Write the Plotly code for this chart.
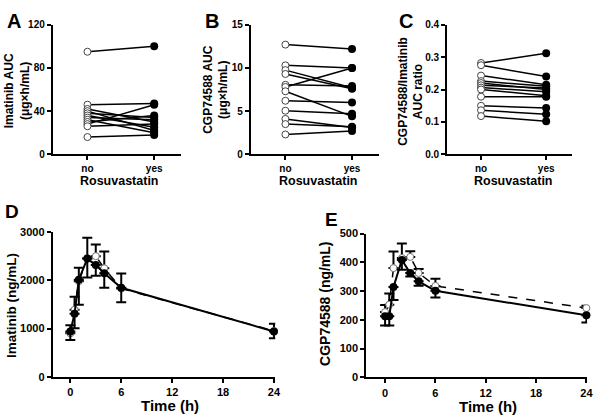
import plotly.graph_objects as go

# ---------- data ----------
groups = ["no", "yes"]

imatinib_auc_no = [95, 46, 42, 40, 38, 36, 34, 32, 30, 28, 26, 16]
imatinib_auc_yes = [100, 47, 30, 22, 34, 25, 32, 20, 36, 46, 28, 18]

cgp_auc_no = [12.7, 10.3, 9.75, 9.3, 8.05, 7.8, 7.3, 6.2, 5.05, 4.1, 3.5, 2.3]
cgp_auc_yes = [12.2, 10.0, 7.7, 7.6, 7.9, 10.0, 4.4, 6.0, 4.7, 3.1, 3.2, 2.7]

ratio_no = [0.282, 0.275, 0.243, 0.226, 0.22, 0.213, 0.206, 0.2, 0.178, 0.15, 0.136, 0.118]
ratio_yes = [0.312, 0.24, 0.215, 0.21, 0.2, 0.205, 0.193, 0.181, 0.178, 0.143, 0.124, 0.102]

time_h = [0, 0.5, 1, 2, 3, 4, 6, 24]

ima_no = [900, 1390, 1980, 2450, 2500, 2248, 1830, 950]
ima_no_sd = [170, 270, 280, 430, 240, 350, 310, 150]
ima_yes = [940, 1308, 2013, 2450, 2315, 2147, 1845, 940]
ima_yes_sd = [180, 300, 520, 390, 220, 300, 300, 140]

cgp_no = [227, 253, 380, 415, 419, 363, 318, 241]
cgp_no_sd = [25, 39, 58, 51, 20, 14, 25, 8]
cgp_yes = [213, 213, 314, 408, 363, 334, 301, 216]
cgp_yes_sd = [33, 33, 45, 34, 12, 15, 23, 25]

FONT = "Arial, Liberation Sans, sans-serif"
W, H = 600, 420

fig = go.Figure()


def px_x(p):
    return p / W


def px_y(p):
    return 1 - p / H


def paired(no_vals, yes_vals, ax):
    xs, ys = [], []
    for a, b in zip(no_vals, yes_vals):
        xs += [0, 1, None]
        ys += [a, b, None]
    fig.add_trace(go.Scatter(x=xs, y=ys, mode="lines", line=dict(color="black", width=1.5),
                             xaxis="x" + ax, yaxis="y" + ax, hoverinfo="skip", showlegend=False))
    fig.add_trace(go.Scatter(x=[0] * len(no_vals), y=no_vals, mode="markers",
                             marker=dict(symbol="circle", size=7, color="white",
                                         line=dict(color="#444", width=1)),
                             xaxis="x" + ax, yaxis="y" + ax, showlegend=False, cliponaxis=False))
    fig.add_trace(go.Scatter(x=[1] * len(yes_vals), y=yes_vals, mode="markers",
                             marker=dict(symbol="circle", size=8, color="black"),
                             xaxis="x" + ax, yaxis="y" + ax, showlegend=False, cliponaxis=False))


paired(imatinib_auc_no, imatinib_auc_yes, "")
paired(cgp_auc_no, cgp_auc_yes, "2")
paired(ratio_no, ratio_yes, "3")


def pk(no_vals, no_sd, yes_vals, yes_sd, ax):
    n = len(time_h)
    fig.add_trace(go.Scatter(x=time_h, y=no_vals, mode="lines+markers",
                             line=dict(color="black", width=1.5, dash="dash"),
                             marker=dict(symbol="circle", size=7, color="white",
                                         line=dict(color="#777", width=1)),
                             error_y=dict(type="data", symmetric=False, array=no_sd,
                                          arrayminus=[0] * n, color="black", thickness=2, width=5),
                             xaxis="x" + ax, yaxis="y" + ax, showlegend=False, cliponaxis=False))
    fig.add_trace(go.Scatter(x=time_h, y=yes_vals, mode="lines+markers",
                             line=dict(color="black", width=2),
                             marker=dict(symbol="circle", size=8, color="black"),
                             error_y=dict(type="data", symmetric=False, array=[0] * n,
                                          arrayminus=yes_sd, color="black", thickness=2, width=5),
                             xaxis="x" + ax, yaxis="y" + ax, showlegend=False, cliponaxis=False))


pk(ima_no, ima_no_sd, ima_yes, ima_yes_sd, "4")
pk(cgp_no, cgp_no_sd, cgp_yes, cgp_yes_sd, "5")

tickfont = dict(family=FONT, size=10, color="black", weight="bold")
tickfont_b = dict(family=FONT, size=11, color="black", weight="bold")
common = dict(showline=True, linecolor="black", linewidth=2, ticks="outside", ticklen=4,
              tickwidth=2, tickcolor="black", showgrid=False, zeroline=False, mirror=False)

top_y = [px_y(152.7), px_y(19.3)]
cat_x = dict(tickvals=[0, 1], ticktext=groups, range=[-0.52, 1.4], tickfont=tickfont, **common)

fig.update_layout(
    width=W, height=H, autosize=False,
    margin=dict(l=0, r=0, t=0, b=0),
    paper_bgcolor="white", plot_bgcolor="white",
    xaxis=dict(domain=[px_x(53.3), px_x(182.7)], anchor="y", **cat_x),
    yaxis=dict(domain=top_y, anchor="x", range=[0, 120], tickvals=[0, 40, 80, 120],
               tickfont=tickfont, **common),
    xaxis2=dict(domain=[px_x(253.3), px_x(382.5)], anchor="y2", **cat_x),
    yaxis2=dict(domain=top_y, anchor="x2", range=[0, 15], tickvals=[0, 5, 10, 15],
                tickfont=tickfont, **common),
    xaxis3=dict(domain=[px_x(451.7), px_x(578)], anchor="y3", **cat_x),
    yaxis3=dict(domain=top_y, anchor="x3", range=[0, 0.4], tickvals=[0, 0.1, 0.2, 0.3, 0.4],
                tickformat=".1f", tickfont=tickfont, **common),
    xaxis4=dict(domain=[px_x(53.3), px_x(278)], anchor="y4", range=[-2.07, 24.15],
                tickvals=[0, 6, 12, 18, 24], tickfont=tickfont_b, **common),
    yaxis4=dict(domain=[px_y(381.7), px_y(232.7)], anchor="x4", range=[0, 3000],
                tickvals=[0, 1000, 2000, 3000], tickfont=tickfont_b, **common),
    xaxis5=dict(domain=[px_x(370), px_x(593)], anchor="y5", range=[-2.24, 24.08],
                tickvals=[0, 6, 12, 18, 24], tickfont=tickfont_b, **common),
    yaxis5=dict(domain=[px_y(382.3), px_y(234.3)], anchor="x5", range=[0, 500],
                tickvals=[0, 100, 200, 300, 400, 500], tickfont=tickfont_b, **common),
)


def ann(text, x, y, size, angle=0, xanchor="center", yanchor="middle"):
    fig.add_annotation(text="<b>" + text + "</b>", x=px_x(x), y=px_y(y), xref="paper", yref="paper",
                       showarrow=False, textangle=angle, xanchor=xanchor, yanchor=yanchor,
                       borderpad=0, font=dict(family=FONT, size=size, color="black"))


# panel letters
ann("A", 6, 3, 20, xanchor="left", yanchor="top")
ann("B", 206, 3, 20, xanchor="left", yanchor="top")
ann("C", 402, 3, 20, xanchor="left", yanchor="top")
ann("D", 4, 200, 19, xanchor="left", yanchor="top")
ann("E", 327, 208, 19, xanchor="left", yanchor="top")

# top y titles
ann("Imatinib AUC<br>(μg×h/mL)", 17, 87, 12, angle=-90)
ann("CGP74588 AUC<br>(μg×h/mL)", 217.5, 86, 12, angle=-90)
ann("CGP74588/Imatinib<br>AUC ratio", 415, 87.5, 12, angle=-90)

# top x titles
ann("Rosuvastatin", 121, 180, 12.5)
ann("Rosuvastatin", 321.5, 180, 12.5)
ann("Rosuvastatin", 519, 180, 12.5)

# bottom titles
ann("Imatinib (ng/mL)", 11, 308, 13.5, angle=-90)
ann("Time (h)", 172, 411.5, 15)
ann("CGP74588 (ng/mL)", 329, 307, 14, angle=-90)
ann("Time (h)", 493, 412, 15)

fig.write_html("out.html", config={"displayModeBar": False},
               post_script="document.body.style.margin='0px';")
